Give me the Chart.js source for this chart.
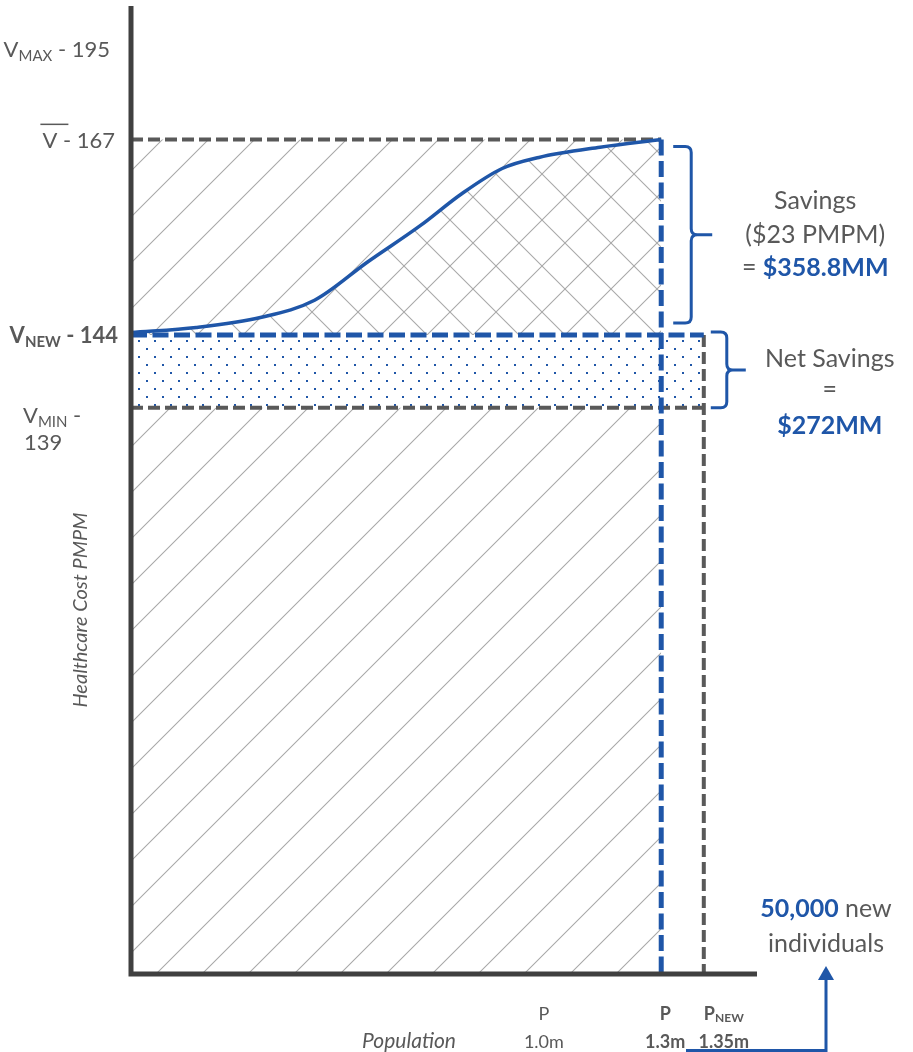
<!DOCTYPE html>
<html>
<head>
<meta charset="utf-8">
<script src="https://cdn.jsdelivr.net/npm/chart.js@4.4.1/dist/chart.umd.min.js"></script>
<style>
  html, body { margin: 0; padding: 0; background: #fff; }
  #wrap { position: relative; width: 913px; height: 1052px; }
</style>
</head>
<body>
<div id="wrap"><canvas id="chart"></canvas></div>
<script>
// healthcare cost levels, $ PMPM: V max, V bar, V new, V min
const costLevels = [195, 167, 144, 139];
const costSubs = ['MAX', '', 'NEW', 'MIN'];
// population ticks, millions: P, P (bold), P new
const popTicks = [1.0, 1.3, 1.35];
const popSubs = ['', '', 'NEW'];
const popLabels = ['1.0m', '1.3m', '1.35m'];
// cost curve from V new (empty population) up to V bar at P
const curvePop = [0, 0.16, 0.32, 0.45, 0.58, 0.71, 0.81, 0.91, 1.0, 1.15, 1.3];
const curveCost = [144.3, 144.9, 146.1, 148.1, 152.6, 156.9, 160.6, 163.6, 164.9, 166.1, 167];
// annotation texts
const savingsLines = ['Savings', '($23 PMPM)'];
const savingsTotal = '$358.8MM';
const netLines = ['Net Savings', '='];
const netTotal = '$272MM';
const newPeople = '50,000';

const V_BAR = costLevels[1], V_NEW = costLevels[2], V_MIN = costLevels[3];
const P_NOW = popTicks[1], P_NEW = popTicks[2];

// the drawing is schematic: each axis is linear between these breaks
// [value, fraction of axis length]
const axisBreaks = {
  x: [[0, 0], [1.3, 0.847], [1.35, 0.915], [1.45, 1]],
  y: [[0, 0], [139, 0.585], [144, 0.660], [167, 0.862], [195, 0.956], [208, 1]]
};

const FACE = 'Lato, "Open Sans", sans-serif';
const GRAY = '#595959', DARK = '#404040', BLUE = '#1f56a8', HATCH = '#a9a9a9';

function interp(v, knots, from, to) {
  for (let i = 1; i < knots.length; i++) {
    const a = knots[i - 1], b = knots[i];
    if (v <= b[from] || i === knots.length - 1) {
      return a[to] + (v - a[from]) / (b[from] - a[from]) * (b[to] - a[to]);
    }
  }
}

class PiecewiseScale extends Chart.LinearScale {
  getPixelForValue(value) {
    if (value === null || isNaN(value)) return NaN;
    return this.getPixelForDecimal(interp(value, axisBreaks[this.id], 0, 1));
  }
  getValueForPixel(pixel) {
    return interp(this.getDecimalForPixel(pixel), axisBreaks[this.id], 1, 0);
  }
}
PiecewiseScale.id = 'piecewise';
PiecewiseScale.defaults = Chart.LinearScale.defaults;
Chart.register(PiecewiseScale);

function makeTile(size, draw) {
  const c = document.createElement('canvas');
  c.width = c.height = size;
  const g = c.getContext('2d');
  draw(g, size);
  return g.createPattern(c, 'repeat');
}
const hatchFwd = makeTile(46, (g) => {
  g.strokeStyle = HATCH; g.lineWidth = 1.1;
  g.beginPath();
  g.moveTo(-2, 28); g.lineTo(28, -2);
  g.moveTo(24, 48); g.lineTo(48, 24);
  g.stroke();
});
const hatchBack = makeTile(46, (g) => {
  g.strokeStyle = HATCH; g.lineWidth = 1.1;
  g.beginPath();
  g.moveTo(-2, -2); g.lineTo(48, 48);
  g.moveTo(44, -2); g.lineTo(48, 2);
  g.moveTo(-2, 44); g.lineTo(2, 48);
  g.stroke();
});
const dots = makeTile(16, (g) => {
  g.fillStyle = '#fff'; g.fillRect(0, 0, 16, 16);
  g.fillStyle = BLUE;
  g.fillRect(10, 4, 2, 2);
  g.fillRect(2, 12, 2, 2);
});

function font(size, bold, italic) {
  return (italic ? 'italic ' : '') + (bold ? 'bold ' : '') + size + 'px ' + FACE;
}

// parts: [text, font, color, dy]
function drawParts(ctx, parts, x, y, align) {
  let total = 0;
  const widths = parts.map(p => { ctx.font = p[1]; const w = ctx.measureText(p[0]).width; total += w; return w; });
  let cx = align === 'right' ? x - total : align === 'center' ? x - total / 2 : x;
  const start = cx;
  parts.forEach((p, i) => {
    ctx.font = p[1];
    ctx.fillStyle = p[2] || GRAY;
    ctx.fillText(p[0], cx, y + (p[3] || 0));
    cx += widths[i];
  });
  return start;
}

function brace(ctx, x0, x1, tip, top, bottom) {
  const mid = (top + bottom) / 2, r = 6;
  ctx.beginPath();
  ctx.moveTo(x0, top);
  ctx.lineTo(x1 - r, top);
  ctx.quadraticCurveTo(x1, top, x1, top + r);
  ctx.lineTo(x1, mid - r);
  ctx.quadraticCurveTo(x1, mid, x1 + r, mid);
  ctx.lineTo(tip, mid);
  ctx.moveTo(x1 + r, mid);
  ctx.quadraticCurveTo(x1, mid, x1, mid + r);
  ctx.lineTo(x1, bottom - r);
  ctx.quadraticCurveTo(x1, bottom, x1 - r, bottom);
  ctx.lineTo(x0, bottom);
  ctx.stroke();
}

const overlay = {
  id: 'overlay',
  afterDatasetsDraw(chart) {
    const {ctx, chartArea: a} = chart;
    ctx.save();
    ctx.strokeStyle = DARK;
    ctx.lineWidth = 5;
    ctx.beginPath();
    ctx.moveTo(a.left, a.top); ctx.lineTo(a.left, a.bottom + 2.5);
    ctx.moveTo(a.left - 2.5, a.bottom); ctx.lineTo(a.right, a.bottom);
    ctx.stroke();
    ctx.restore();
  },
  afterDraw(chart) {
    const {ctx, chartArea: a} = chart;
    const xs = chart.scales.x, ys = chart.scales.y;
    ctx.save();
    ctx.textBaseline = 'middle';
    ctx.textAlign = 'left';

    // cost levels on the y axis
    costLevels.forEach((v, i) => {
      const py = ys.getPixelForValue(v);
      const bold = i === 2;
      const f = font(22, bold), fs = font(15, bold);
      if (i === 3) {
        drawParts(ctx, [['V', f], [costSubs[i], fs, null, 6], [' -', f]], 23, py + 8, 'left');
        drawParts(ctx, [[String(v), f]], 24, py + 35, 'left');
        return;
      }
      const parts = [['V', f]];
      if (costSubs[i]) parts.push([costSubs[i], fs, null, 6]);
      parts.push([' - ' + v, f]);
      const right = [110, 115, 118][i];
      const sx = drawParts(ctx, parts, right, py + (i === 2 ? 1 : 1.5), 'right');
      if (!costSubs[i]) {
        ctx.fillStyle = GRAY;
        ctx.fillRect(sx - 2, py - 16, 28, 1.5);
      }
    });

    // population ticks under the x axis
    popTicks.forEach((v, i) => {
      const px = xs.getPixelForValue(v) + [5, 4, 20][i];
      const bold = i > 0;
      const top = [['P', font(18, bold)]];
      if (popSubs[i]) top.push([popSubs[i], font(12, bold), null, 4]);
      drawParts(ctx, top, px, a.bottom + 40, 'center');
      drawParts(ctx, [[popLabels[i], font(18, bold)]], px, a.bottom + 68, 'center');
    });

    // axis titles
    drawParts(ctx, [['Population', font(21, false, true)]], 409, a.bottom + 67, 'center');
    ctx.save();
    ctx.translate(80.5, 610);
    ctx.rotate(-Math.PI / 2);
    drawParts(ctx, [['Healthcare Cost PMPM', font(20, false, true)]], 0, 0, 'center');
    ctx.restore();

    // braces
    const pP = xs.getPixelForValue(P_NOW), pN = xs.getPixelForValue(P_NEW);
    const yBar = ys.getPixelForValue(V_BAR), yNew = ys.getPixelForValue(V_NEW), yMin = ys.getPixelForValue(V_MIN);
    ctx.strokeStyle = BLUE;
    ctx.lineWidth = 3;
    ctx.lineJoin = 'round';
    brace(ctx, pP + 12, pP + 30, pP + 51, yBar + 7, yNew - 12);
    brace(ctx, pN + 7, pN + 23, pN + 42, yNew - 3, yMin);

    // savings annotations
    const f25 = font(25), b25 = font(25, true);
    const sx = pP + 154;
    drawParts(ctx, [[savingsLines[0], f25]], sx, 201, 'center');
    drawParts(ctx, [[savingsLines[1], f25]], sx, 235, 'center');
    drawParts(ctx, [['= ', f25], [savingsTotal, b25, BLUE]], sx, 267.5, 'center');
    const nx = pN + 126;
    drawParts(ctx, [[netLines[0], f25]], nx, 359, 'center');
    drawParts(ctx, [[netLines[1], f25]], nx, 390, 'center');
    drawParts(ctx, [[netTotal, b25, BLUE]], nx, 426, 'center');

    // new individuals arrow
    const ax = a.right + 69;
    drawParts(ctx, [[newPeople, b25, BLUE], [' new', f25]], ax, 909, 'center');
    drawParts(ctx, [['individuals', f25]], ax, 944, 'center');
    ctx.strokeStyle = BLUE;
    ctx.lineWidth = 3;
    ctx.beginPath();
    ctx.moveTo(ax, chart.height);
    ctx.lineTo(ax, a.bottom + 5);
    ctx.moveTo(a.right - 71, chart.height - 1.5);
    ctx.lineTo(ax + 1.5, chart.height - 1.5);
    ctx.stroke();
    ctx.fillStyle = BLUE;
    ctx.beginPath();
    ctx.moveTo(ax, a.bottom - 8);
    ctx.lineTo(ax + 8, a.bottom + 6);
    ctx.lineTo(ax - 8, a.bottom + 6);
    ctx.closePath();
    ctx.fill();
    ctx.restore();
  }
};

const pt = (x, y) => ({x, y});
const curve = curvePop.map((p, i) => pt(p, curveCost[i]));
const NONE = 'rgba(0,0,0,0)';

new Chart(document.getElementById('chart'), {
  type: 'line',
  data: {
    datasets: [
      { data: curve, borderColor: BLUE, borderWidth: 3.5, cubicInterpolationMode: 'monotone', fill: false, order: 1 },
      { data: [pt(P_NOW, V_BAR), pt(P_NOW, 0)], borderColor: BLUE, borderWidth: 5, borderDash: [16, 5.5], fill: false, order: 2 },
      { data: [pt(0, V_NEW), pt(P_NEW, V_NEW)], borderColor: BLUE, borderWidth: 5, borderDash: [16, 5.5], fill: false, order: 3 },
      { data: [pt(P_NEW, V_NEW), pt(P_NEW, 0)], borderColor: GRAY, borderWidth: 4, borderDash: [12, 5], fill: false, order: 4 },
      { data: [pt(0, V_MIN), pt(P_NEW, V_MIN)], borderColor: GRAY, borderWidth: 4, borderDash: [12, 5], fill: false, order: 5 },
      { data: curve, borderColor: NONE, borderWidth: 1, cubicInterpolationMode: 'monotone', fill: {value: V_NEW}, backgroundColor: hatchBack, order: 6 },
      { data: [pt(0, V_NEW), pt(P_NEW, V_NEW)], borderColor: NONE, borderWidth: 1, fill: {value: V_MIN}, backgroundColor: dots, order: 7 },
      { data: [pt(0, V_BAR), pt(P_NOW, V_BAR)], borderColor: GRAY, borderWidth: 4, borderDash: [12, 5], fill: {value: 0}, backgroundColor: hatchFwd, order: 8 }
    ]
  },
  options: {
    responsive: true,
    maintainAspectRatio: false,
    animation: false,
    events: [],
    layout: { padding: { left: 131, right: 156, top: 6, bottom: 78 } },
    elements: { point: { radius: 0 }, line: { borderCapStyle: 'butt' } },
    plugins: { legend: { display: false }, tooltip: { enabled: false } },
    scales: {
      x: { type: 'piecewise', min: 0, max: 1.45, display: false },
      y: { type: 'piecewise', min: 0, max: 208, display: false }
    }
  },
  plugins: [overlay]
});
</script>
</body>
</html>
